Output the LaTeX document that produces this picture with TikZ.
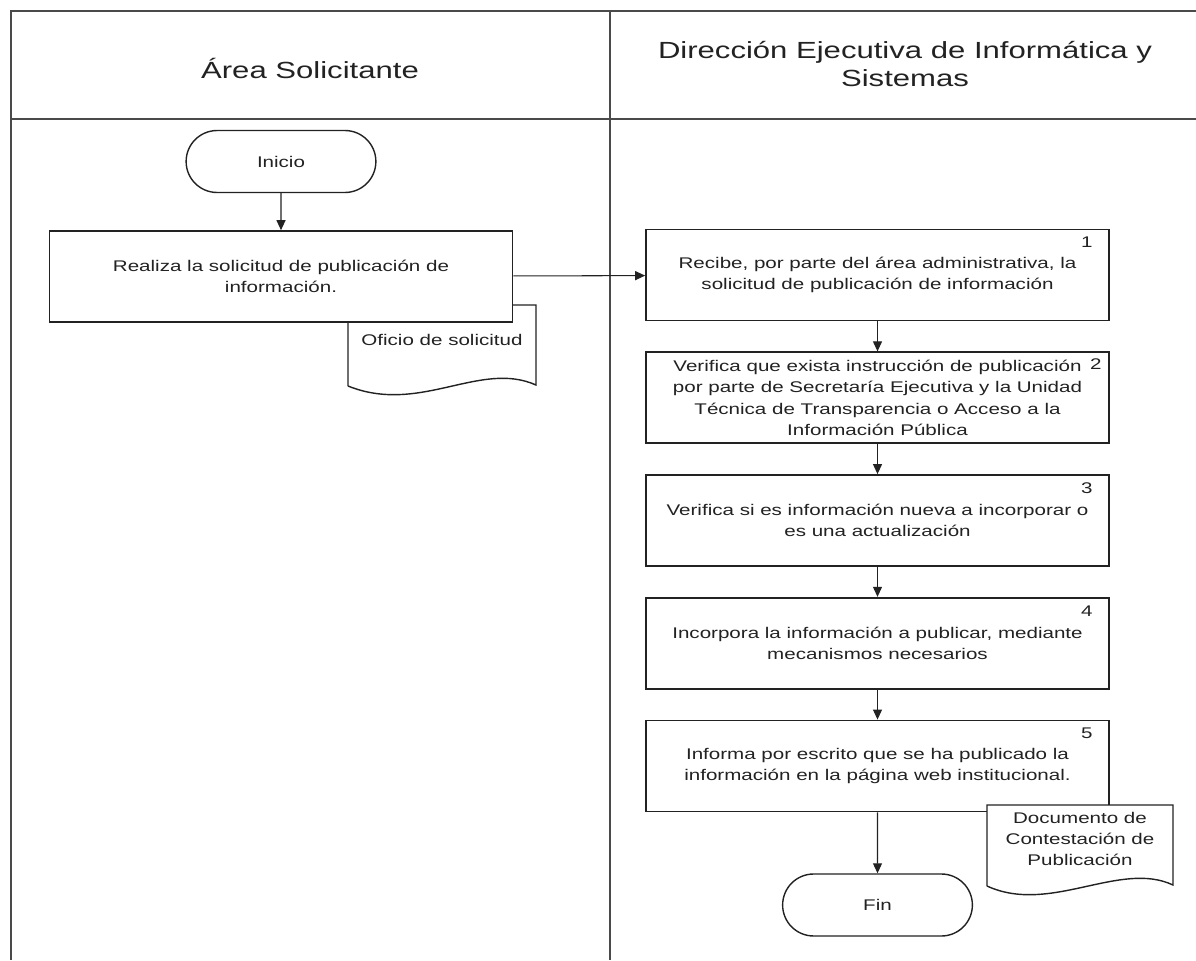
\documentclass[tikz,border=0pt]{standalone}
\usepackage{fontspec}
\setmainfont[FakeStretch=1.33]{Liberation Sans}
\usepackage{tikz}
\usetikzlibrary{arrows.meta,positioning,calc,shapes.misc}
\definecolor{InkGray}{HTML}{222222}
\definecolor{FrameGray}{HTML}{4A4A4A}
\tikzset{
  stepbox/.style={draw=InkGray, fill=white, line width=1pt, align=center, inner sep=2pt, minimum width=9.26cm, minimum height=1.82cm, font=\fontsize{8.8}{12.2}\selectfont},
  termbox/.style={rounded rectangle, draw=InkGray, fill=white, line width=0.8pt, minimum width=4.03cm, minimum height=1.24cm, font=\fontsize{8.8}{12.2}\selectfont},
  docline/.style={draw=InkGray, fill=white, line width=0.8pt},
  doctext/.style={align=center, inner sep=1pt, font=\fontsize{8.8}{12}\selectfont},
  numtext/.style={inner sep=0pt, font=\fontsize{8.8}{10}\selectfont},
  lanetitle/.style={align=center, text=InkGray, font=\fontsize{13.3}{15.9}\selectfont},
  lane/.style={draw=FrameGray, line width=0.7pt},
  arrow/.style={-{Triangle[length=2mm, width=1.8mm]}, line width=0.6pt, draw=InkGray}
}

\begin{document}
\begin{tikzpicture}[x=0.02cm, y=-0.02cm, node distance=0.6cm, every node/.style={text=InkGray}]
\useasboundingbox (0,0) rectangle (1196,960);
% carriles
\draw[lane, line width=1.4pt] (10,11) -- (1196,11);
\draw[lane, line width=1pt] (11,119) -- (1196,119);
\draw[lane] (11,10) -- (11,960);
\draw[lane] (610,10) -- (610,960);
\node[lanetitle] (solicitante) at (310,68) {Área Solicitante};
\node[lanetitle] (deis) at (905,64) {Dirección Ejecutiva de Informática y\\Sistemas};

% area solicitante
\draw[docline] (348,386) -- (348,305) -- (536,305) -- (536,385) .. controls (480,360) and (420,415) .. (348,386);
\node[termbox] (inicio) at (281,161.5) {Inicio};
\node[stepbox, below=0.74cm of inicio] (solicitud) {Realiza la solicitud de publicación de\\información.};
\node[doctext] (oficio) at (442,340) {Oficio de solicitud};

% direccion ejecutiva
\node[stepbox] (recibe) at (877.5,275) {Recibe, por parte del área administrativa, la\\solicitud de publicación de información};
\node[stepbox, below=of recibe] (verifica) {Verifica que exista instrucción de publicación\\por parte de Secretaría Ejecutiva y la Unidad\\Técnica de Transparencia o Acceso a la\\Información Pública};
\node[stepbox, below=of verifica] (nueva) {Verifica si es información nueva a incorporar o\\es una actualización};
\node[stepbox, below=of nueva] (incorpora) {Incorpora la información a publicar, mediante\\mecanismos necesarios};
\node[stepbox, below=of incorpora] (informa) {Informa por escrito que se ha publicado la\\información en la página web institucional.};
\node[termbox, below=1.22cm of informa] (fin) {Fin};
\draw[docline] (987,886) -- (987,805) -- (1173,805) -- (1173,885) .. controls (1120,860) and (1050,915) .. (987,886);
\node[doctext] (contestacion) at (1080,839) {Documento de\\Contestación de\\Publicación};

\node[numtext] (n1) at ($(recibe.north east)+(-23,14)$) {1};
\node[numtext] (n2) at ($(verifica.north east)+(-14,13)$) {2};
\node[numtext] (n3) at ($(nueva.north east)+(-23,14)$) {3};
\node[numtext] (n4) at ($(incorpora.north east)+(-23,14)$) {4};
\node[numtext] (n5) at ($(informa.north east)+(-23,14)$) {5};

\draw[arrow] (inicio) -- (solicitud);
\draw[arrow] (solicitud) -- (recibe);
\draw[arrow] (recibe) -- (verifica);
\draw[arrow] (verifica) -- (nueva);
\draw[arrow] (nueva) -- (incorpora);
\draw[arrow] (incorpora) -- (informa);
\draw[arrow] (informa) -- (fin);
\end{tikzpicture}
\end{document}
